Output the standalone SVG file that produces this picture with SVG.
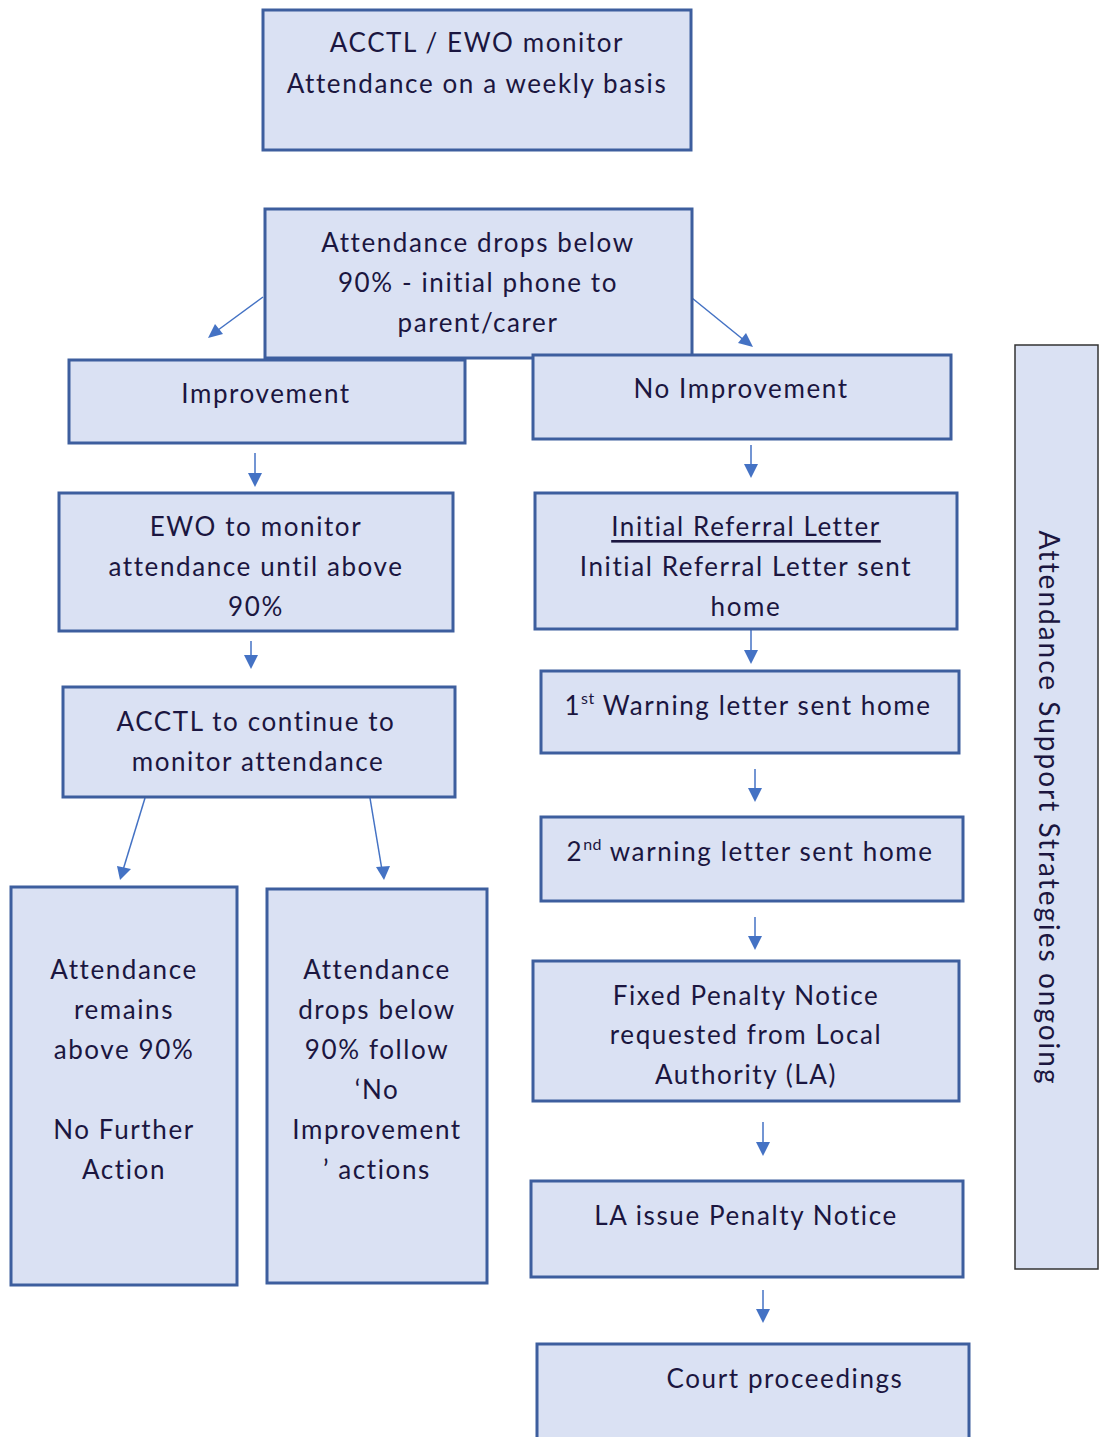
<svg xmlns="http://www.w3.org/2000/svg" width="1100" height="1437" viewBox="0 0 1100 1437">
<defs>
<style>
.box{fill:#dae1f3;stroke:#3d5e9e;stroke-width:3}
.side{fill:#dae1f3;stroke:#333;stroke-width:1.5}
text{font-family:Lato,"Liberation Sans",sans-serif;font-size:26px;letter-spacing:1.6px;fill:#1b1640;text-anchor:middle;dominant-baseline:central}
.sup{font-size:16px;letter-spacing:0.5px}
.vt{font-size:28px;letter-spacing:2px}
</style>
</defs>
<rect width="1100" height="1437" fill="#fff"/>
<g id="connectors">
<line x1="263" y1="297" x2="214" y2="333" stroke="#4472c4" stroke-width="1.5"/>
<polygon points="208,338 215,324 223,334" fill="#4472c4"/>
<line x1="692" y1="298" x2="745" y2="341" stroke="#4472c4" stroke-width="1.5"/>
<polygon points="753,347 738,343 746,333" fill="#4472c4"/>
<line x1="145" y1="798" x2="123" y2="870" stroke="#4472c4" stroke-width="1.5"/>
<polygon points="120,880 117,866 131,869" fill="#4472c4"/>
<line x1="370" y1="798" x2="382" y2="870" stroke="#4472c4" stroke-width="1.5"/>
<polygon points="384,880 376,867 390,866" fill="#4472c4"/>
<g stroke="#4472c4" stroke-width="1.5">
<line x1="255" y1="453" x2="255" y2="476"/>
<line x1="251" y1="641" x2="251" y2="658"/>
<line x1="751" y1="445" x2="751" y2="467"/>
<line x1="751" y1="629" x2="751" y2="653"/>
<line x1="755" y1="769" x2="755" y2="791"/>
<line x1="755" y1="917" x2="755" y2="939"/>
<line x1="763" y1="1122" x2="763" y2="1145"/>
<line x1="763" y1="1290" x2="763" y2="1312"/>
</g>
<g fill="#4472c4">
<polygon points="248,473 262,473 255,487"/>
<polygon points="244,655 258,655 251,669"/>
<polygon points="744,464 758,464 751,478"/>
<polygon points="744,650 758,650 751,664"/>
<polygon points="748,788 762,788 755,802"/>
<polygon points="748,936 762,936 755,950"/>
<polygon points="756,1142 770,1142 763,1156"/>
<polygon points="756,1309 770,1309 763,1323"/>
</g>
</g>
<g id="n1"><rect class="box" x="263" y="10" width="428" height="140"/>
<text x="477" y="42">ACCTL / EWO monitor</text><text x="477" y="83">Attendance on a weekly basis</text></g>
<g id="n2"><rect class="box" x="265" y="209" width="427" height="149"/>
<text x="478" y="242">Attendance drops below</text><text x="478" y="282">90% - initial phone to</text><text x="478" y="322">parent/carer</text></g>
<g id="n3"><rect class="box" x="69" y="360" width="396" height="83"/>
<text x="266" y="393">Improvement</text></g>
<g id="n4"><rect class="box" x="533" y="355" width="418" height="84"/>
<text x="741" y="388">No Improvement</text></g>
<g id="n5"><rect class="box" x="59" y="493" width="394" height="138"/>
<text x="256" y="526">EWO to monitor</text><text x="256" y="566">attendance until above</text><text x="256" y="606">90%</text></g>
<g id="n6"><rect class="box" x="535" y="493" width="422" height="136"/>
<text x="746" y="526" text-decoration="underline">Initial Referral Letter</text><text x="746" y="566">Initial Referral Letter sent</text><text x="746" y="606">home</text></g>
<g id="n7"><rect class="box" x="63" y="687" width="392" height="110"/>
<text x="256" y="721">ACCTL to continue to</text><text x="258" y="761">monitor attendance</text></g>
<g id="n8"><rect class="box" x="541" y="671" width="418" height="82"/>
<text x="748" y="705">1<tspan class="sup" dy="-8">st</tspan><tspan dy="8"> Warning letter sent home</tspan></text></g>
<g id="n9"><rect class="box" x="541" y="817" width="422" height="84"/>
<text x="750" y="851">2<tspan class="sup" dy="-8">nd</tspan><tspan dy="8"> warning letter sent home</tspan></text></g>
<g id="n10"><rect class="box" x="11" y="887" width="226" height="398"/>
<text x="124" y="969">Attendance</text><text x="124" y="1009">remains</text><text x="124" y="1049">above 90%</text><text x="124" y="1129">No Further</text><text x="124" y="1169">Action</text></g>
<g id="n11"><rect class="box" x="267" y="889" width="220" height="394"/>
<text x="377" y="969">Attendance</text><text x="377" y="1009">drops below</text><text x="377" y="1049">90% follow</text><text x="377" y="1089">‘No</text><text x="377" y="1129">Improvement</text><text x="377" y="1169">’ actions</text></g>
<g id="n12"><rect class="box" x="533" y="961" width="426" height="140"/>
<text x="746" y="995">Fixed Penalty Notice</text><text x="746" y="1034">requested from Local</text><text x="746" y="1074">Authority (LA)</text></g>
<g id="n13"><rect class="box" x="531" y="1181" width="432" height="96"/>
<text x="746" y="1215">LA issue Penalty Notice</text></g>
<g id="n14"><rect class="box" x="537" y="1344" width="432" height="110"/>
<text x="785" y="1378">Court proceedings</text></g>
<g id="n15"><rect class="side" x="1015" y="345" width="83" height="924"/>
<text class="vt" x="0" y="0" transform="translate(1050,808) rotate(90)">Attendance Support Strategies ongoing</text></g>
</svg>
